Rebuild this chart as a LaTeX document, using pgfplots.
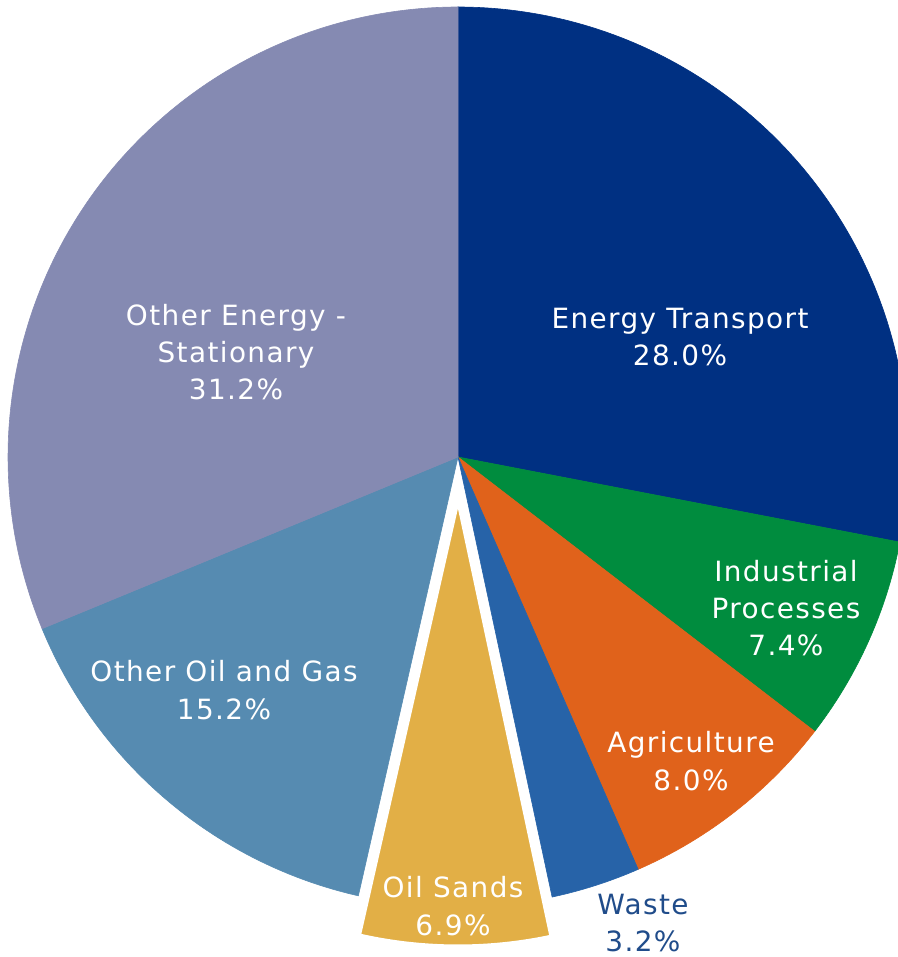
\documentclass[border=0pt]{standalone}
\usepackage{fontspec}
\setmainfont{DejaVu Sans}[LetterSpace=5]
\usepackage{pgfplots}
\pgfplotsset{compat=1.18}

\definecolor{cET}{RGB}{0,48,130}
\definecolor{cIP}{RGB}{0,140,62}
\definecolor{cAG}{RGB}{224,98,27}
\definecolor{cWA}{RGB}{39,99,168}
\definecolor{cOS}{RGB}{226,175,70}
\definecolor{cOG}{RGB}{86,139,177}
\definecolor{cOE}{RGB}{133,138,178}
\definecolor{cWT}{RGB}{32,76,138}

\tikzset{lbl/.style={font=\fontsize{28}{37.5}\selectfont, align=center, text=white, inner sep=0pt}}

% shares in percent, clockwise from the top
\def\vET{28.0}
\def\vIP{7.4}
\def\vAG{8.0}
\def\vWA{3.2}
\def\vOS{6.9}
\def\vOG{15.2}
\def\vOE{31.2}

\pgfmathsetmacro\total{\vET+\vIP+\vAG+\vWA+\vOS+\vOG+\vOE}
\pgfmathsetmacro\aA{90}
\pgfmathsetmacro\aB{\aA-360*\vET/\total}
\pgfmathsetmacro\aC{\aB-360*\vIP/\total}
\pgfmathsetmacro\aD{\aC-360*\vAG/\total}
\pgfmathsetmacro\aE{\aD-360*\vWA/\total}
\pgfmathsetmacro\aF{\aE-360*\vOS/\total}
\pgfmathsetmacro\aG{\aF-360*\vOG/\total}
\pgfmathsetmacro\aH{\aG-360*\vOE/\total}

\def\cx{458}
\def\cy{500}
\def\R{450}

\begin{document}
\begin{tikzpicture}
\begin{axis}[
  scale only axis, width=898bp, height=957bp,
  xmin=0, xmax=898, ymin=0, ymax=957,
  hide axis,
  samples=120,
  every axis plot/.append style={line width=0.6pt},
]
\addplot[draw=cET, fill=cET, domain=\aB:\aA, variable=\t]
  ({\cx+\R*cos(\t)},{\cy+\R*sin(\t)}) -- (axis cs:\cx,\cy) -- cycle;
\addplot[draw=cIP, fill=cIP, domain=\aC:\aB, variable=\t]
  ({\cx+\R*cos(\t)},{\cy+\R*sin(\t)}) -- (axis cs:\cx,\cy) -- cycle;
\addplot[draw=cAG, fill=cAG, domain=\aD:\aC, variable=\t]
  ({\cx+\R*cos(\t)},{\cy+\R*sin(\t)}) -- (axis cs:\cx,\cy) -- cycle;
\addplot[draw=cWA, fill=cWA, domain=\aE:\aD, variable=\t]
  ({\cx+\R*cos(\t)},{\cy+\R*sin(\t)}) -- (axis cs:\cx,\cy) -- cycle;
\addplot[draw=cOG, fill=cOG, domain=\aG:\aF, variable=\t]
  ({\cx+\R*cos(\t)},{\cy+\R*sin(\t)}) -- (axis cs:\cx,\cy) -- cycle;
\addplot[draw=cOE, fill=cOE, domain=\aH:\aG, variable=\t]
  ({\cx+\R*cos(\t)},{\cy+\R*sin(\t)}) -- (axis cs:\cx,\cy) -- cycle;
% exploded slice: oil sands, pulled 40 units downwards
\addplot[draw=white, line width=5bp, fill=cOS, domain=\aF:\aE, variable=\t]
  ({\cx+\R*cos(\t)},{\cy-40+\R*sin(\t)}) -- (axis cs:\cx,\cy-40) -- cycle;

\node[lbl] at (axis cs:680,620) {Energy Transport\\28.0\%};
\node[lbl] at (axis cs:786,349) {Industrial\\Processes\\7.4\%};
\node[lbl] at (axis cs:691,196) {Agriculture\\8.0\%};
\node[lbl, text=cWT] at (axis cs:643,34) {Waste\\3.2\%};
\node[lbl] at (axis cs:453,51) {Oil Sands\\6.9\%};
\node[lbl] at (axis cs:224,267) {Other Oil and Gas\\15.2\%};
\node[lbl] at (axis cs:236,605) {Other Energy -\\Stationary\\31.2\%};
\end{axis}
\pgfresetboundingbox
\path (current axis.south west) rectangle (current axis.north east);
\end{tikzpicture}
\end{document}
